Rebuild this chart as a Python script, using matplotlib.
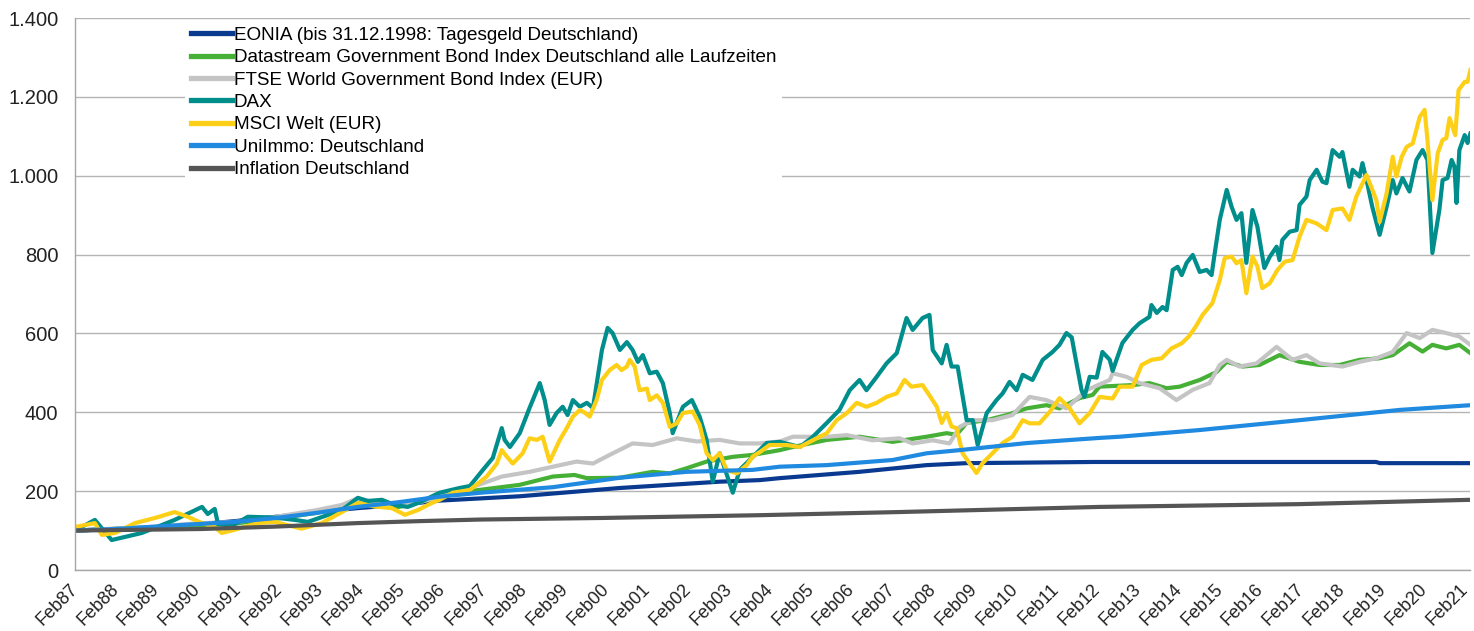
import matplotlib
matplotlib.use("Agg")
import matplotlib.pyplot as plt
import numpy as np

plt.rcParams['font.family'] = ['Liberation Sans', 'DejaVu Sans']

#%% data (x = decimal year, y = index, Feb 1987 = 100)
eonia_x = [1987.08, 1988.0, 1989.0, 1990.0, 1991.0, 1992.0, 1993.0, 1994.0, 1995.0, 1996.0,
           1997.96, 2000.41, 2002.85, 2003.83, 2004.32, 2006.27, 2007.91, 2008.89, 2012.0,
           2018.9, 2019.0, 2021.21]
eonia_y = [100, 104, 108, 115, 124, 135, 147, 157, 165, 176,
           187, 208, 224, 228, 233, 249, 266, 271, 274,
           274, 271, 271]

bond_de_x = [1987.08, 1988.0, 1989.0, 1990.0, 1991.0, 1992.0, 1993.0, 1994.0, 1994.5, 1995.0,
             1995.5, 1996.0, 1996.74, 1997.96, 1998.77, 1999.30, 1999.60, 2000.41, 2001.21,
             2001.63, 2002.04, 2002.53, 2003.17, 2003.66, 2004.32, 2004.64, 2005.47, 2006.27,
             2007.08, 2007.91, 2008.40, 2008.64, 2008.89, 2009.38, 2009.87, 2010.36, 2010.84,
             2011.16, 2011.65, 2011.97, 2012.14, 2012.95, 2013.36, 2013.78, 2014.10, 2014.59,
             2015.00, 2015.25, 2015.64, 2016.05, 2016.54, 2017.03, 2017.52, 2018.01, 2018.50,
             2018.99, 2019.31, 2019.72, 2020.04, 2020.28, 2020.62, 2020.94, 2021.21]
bond_de_y = [100, 104, 108, 112, 118, 130, 145, 170, 160, 160,
             172, 185, 200, 216, 237, 241, 233, 234, 249,
             245, 258, 275, 287, 292, 304, 312, 330, 338,
             325, 338, 347, 343, 373, 380, 393, 410, 418,
             410, 436, 444, 465, 469, 474, 461, 465, 482,
             502, 528, 516, 520, 545, 528, 520, 520, 533,
             537, 545, 575, 554, 571, 562, 571, 550]

ftse_x = [1987.08, 1988.06, 1989.04, 1990.0, 1991.0, 1992.0, 1993.0, 1993.61, 1994.0, 1994.5,
          1995.0, 1995.5, 1996.0, 1996.74, 1997.52, 1998.20, 1998.77, 1999.35, 1999.75,
          2000.16, 2000.72, 2001.21, 2001.80, 2002.29, 2002.85, 2003.34, 2003.83, 2004.32,
          2004.64, 2005.47, 2005.96, 2006.59, 2007.25, 2007.57, 2008.06, 2008.47, 2008.72,
          2009.04, 2009.52, 2010.01, 2010.43, 2010.84, 2011.33, 2011.82, 2012.39, 2012.46,
          2012.80, 2013.12, 2013.61, 2014.02, 2014.42, 2014.83, 2015.08, 2015.25, 2015.56,
          2015.98, 2016.47, 2016.86, 2017.20, 2017.52, 2018.08, 2018.50, 2018.91, 2019.31,
          2019.65, 2019.97, 2020.28, 2020.62, 2020.94, 2021.21]
ftse_y = [100, 105, 110, 118, 122, 135, 152, 165, 182, 170,
          165, 172, 185, 208, 237, 249, 262, 275, 270,
          292, 321, 317, 334, 326, 330, 321, 321, 326,
          338, 338, 342, 329, 334, 321, 329, 321, 363,
          380, 380, 393, 439, 431, 410, 456, 482, 499,
          490, 474, 461, 431, 457, 474, 520, 533, 516,
          524, 566, 533, 545, 524, 516, 528, 537, 553,
          601, 588, 609, 601, 592, 571]

dax_x = [1987.08, 1987.57, 1987.98, 1988.72, 1989.52, 1990.19, 1990.33, 1990.50, 1990.58, 1990.92,
         1991.31, 1991.97, 1992.46, 1992.78, 1993.61, 1994.00, 1994.24, 1994.59, 1994.90, 1995.22,
         1995.52, 1996.00, 1996.49, 1996.74, 1997.06, 1997.30, 1997.52, 1997.59, 1997.72, 1997.96,
         1998.20, 1998.45, 1998.57, 1998.69, 1998.86, 1999.01, 1999.13, 1999.26, 1999.43, 1999.60,
         1999.75, 1999.97, 2000.11, 2000.23, 2000.41, 2000.58, 2000.72, 2000.85, 2000.97, 2001.14,
         2001.31, 2001.46, 2001.63, 2001.70, 2001.95, 2002.17, 2002.36, 2002.53, 2002.68, 2002.85,
         2003.17, 2003.34, 2003.66, 2004.00, 2004.32, 2004.81, 2005.12, 2005.47, 2005.78, 2006.03,
         2006.27, 2006.44, 2006.69, 2006.93, 2007.18, 2007.42, 2007.57, 2007.81, 2007.98, 2008.06,
         2008.28, 2008.40, 2008.52, 2008.67, 2008.89, 2009.04, 2009.16, 2009.38, 2009.62, 2009.77,
         2009.94, 2010.11, 2010.26, 2010.50, 2010.75, 2010.99, 2011.16, 2011.33, 2011.46, 2011.53,
         2011.70, 2011.77, 2011.90, 2012.07, 2012.21, 2012.39, 2012.46, 2012.70, 2012.95, 2013.12,
         2013.36, 2013.41, 2013.54, 2013.68, 2013.78, 2013.93, 2014.05, 2014.15, 2014.27, 2014.42,
         2014.59, 2014.76, 2014.88, 2014.95, 2015.08, 2015.25, 2015.37, 2015.49, 2015.61, 2015.73,
         2015.88, 2016.00, 2016.17, 2016.30, 2016.47, 2016.54, 2016.61, 2016.79, 2016.96, 2017.03,
         2017.20, 2017.28, 2017.45, 2017.59, 2017.69, 2017.84, 2018.01, 2018.08, 2018.25, 2018.33,
         2018.50, 2018.57, 2018.67, 2018.81, 2018.99, 2019.16, 2019.31, 2019.40, 2019.55, 2019.72,
         2019.89, 2020.04, 2020.16, 2020.28, 2020.45, 2020.53, 2020.65, 2020.75, 2020.82, 2020.87,
         2020.94, 2021.07, 2021.14, 2021.21]
dax_y = [100, 127, 76, 94, 127, 160, 142, 155, 117, 112,
         135, 133, 127, 122, 152, 183, 175, 178, 165, 160,
         172, 196, 208, 213, 254, 284, 360, 330, 312, 347,
         411, 474, 431, 368, 398, 414, 393, 431, 414, 424,
         411, 558, 614, 601, 558, 578, 558, 528, 545, 499,
         503, 474, 398, 347, 414, 431, 389, 330, 224, 296,
         196, 254, 287, 322, 325, 312, 337, 373, 406, 456,
         482, 456, 490, 524, 550, 639, 609, 639, 647, 558,
         524, 571, 516, 516, 380, 380, 317, 398, 431, 448,
         477, 456, 495, 482, 533, 553, 571, 601, 590, 550,
         456, 439, 490, 488, 553, 533, 505, 576, 609, 626,
         642, 672, 652, 667, 659, 761, 769, 748, 779, 799,
         756, 761, 748, 799, 888, 964, 921, 888, 905, 779,
         913, 871, 766, 794, 820, 786, 837, 858, 862, 926,
         947, 989, 1015, 985, 981, 1065, 1048, 1060, 972, 1015,
         998, 1032, 989, 921, 850, 921, 989, 955, 994, 960,
         1040, 1065, 1040, 804, 913, 989, 994, 1040, 1023, 931,
         1065, 1103, 1083, 1107]

msci_x = [1987.08, 1987.57, 1987.74, 1988.06, 1988.55, 1989.04, 1989.52, 1989.84, 1990.19, 1990.50,
          1990.67, 1990.99, 1991.55, 1991.97, 1992.46, 1992.63, 1993.12, 1993.61, 1994.00, 1994.41,
          1994.83, 1995.15, 1995.47, 1995.81, 1996.00, 1996.32, 1996.74, 1997.15, 1997.40, 1997.52,
          1997.64, 1997.79, 1998.03, 1998.20, 1998.38, 1998.52, 1998.69, 1998.94, 1999.11, 1999.26,
          1999.43, 1999.55, 1999.67, 1999.84, 1999.97, 2000.16, 2000.33, 2000.45, 2000.58, 2000.65,
          2000.77, 2000.89, 2001.07, 2001.14, 2001.31, 2001.46, 2001.63, 2001.80, 2001.95, 2002.19,
          2002.36, 2002.53, 2002.68, 2002.85, 2003.02, 2003.27, 2003.51, 2003.66, 2003.83, 2004.07,
          2004.49, 2004.81, 2005.22, 2005.47, 2005.71, 2005.96, 2006.20, 2006.44, 2006.69, 2006.93,
          2007.18, 2007.37, 2007.54, 2007.81, 2007.98, 2008.16, 2008.28, 2008.40, 2008.52, 2008.64,
          2008.79, 2008.96, 2009.13, 2009.28, 2009.52, 2009.77, 2010.01, 2010.26, 2010.43, 2010.67,
          2010.92, 2011.16, 2011.41, 2011.65, 2011.90, 2012.14, 2012.46, 2012.63, 2012.95, 2013.17,
          2013.41, 2013.66, 2013.90, 2014.15, 2014.32, 2014.49, 2014.66, 2014.90, 2015.08, 2015.20,
          2015.37, 2015.49, 2015.61, 2015.73, 2015.88, 2016.00, 2016.12, 2016.30, 2016.49, 2016.67,
          2016.86, 2017.03, 2017.20, 2017.45, 2017.69, 2017.84, 2018.08, 2018.25, 2018.42, 2018.67,
          2018.91, 2018.99, 2019.16, 2019.31, 2019.40, 2019.53, 2019.65, 2019.80, 2019.97, 2020.09,
          2020.16, 2020.28, 2020.41, 2020.53, 2020.62, 2020.70, 2020.84, 2020.92, 2021.07, 2021.14,
          2021.21]
msci_y = [109, 119, 89, 94, 119, 132, 147, 135, 119, 109,
          94, 102, 119, 122, 109, 105, 119, 147, 170, 161,
          157, 140, 152, 170, 178, 196, 203, 237, 270, 304,
          288, 270, 296, 334, 330, 338, 275, 330, 360, 389,
          406, 399, 389, 431, 482, 507, 520, 507, 516, 533,
          516, 456, 460, 431, 443, 424, 363, 372, 398, 402,
          368, 296, 279, 296, 254, 245, 266, 288, 299, 317,
          317, 312, 334, 347, 380, 398, 424, 414, 424, 439,
          448, 482, 465, 469, 443, 414, 373, 398, 364, 360,
          296, 271, 246, 271, 296, 322, 338, 380, 372, 372,
          401, 436, 410, 372, 398, 439, 435, 465, 465, 520,
          533, 537, 562, 575, 592, 617, 647, 677, 735, 791,
          795, 778, 786, 702, 795, 770, 715, 727, 761, 782,
          786, 845, 888, 879, 862, 913, 917, 888, 947, 1002,
          938, 883, 955, 1048, 998, 1048, 1073, 1082, 1149, 1167,
          1090, 938, 1057, 1091, 1095, 1146, 1103, 1217, 1238, 1238,
          1268]

immo_x = [1987.08, 1988.06, 1989.04, 1990.0, 1991.0, 1992.0, 1993.0, 1994.0, 1995.0, 1996.0,
          1997.0, 1998.77, 2000.41, 2002.04, 2003.66, 2004.32, 2005.47, 2007.08, 2007.91,
          2008.72, 2010.36, 2012.14, 2012.63, 2014.59, 2017.03, 2019.48, 2021.21]
immo_y = [100, 104, 110, 116, 122, 132, 145, 160, 172, 186,
          196, 210, 234, 249, 254, 262, 266, 279, 296,
          304, 322, 335, 338, 355, 380, 406, 418]

infl_x = [1987.08, 1990.19, 1991.97, 1994.00, 1995.52, 1997.0, 2000.0, 2003.83, 2007.25,
          2012.14, 2017.0, 2021.21]
infl_y = [100, 104, 110, 119, 124, 128, 132, 139, 147, 160, 167, 178]

series = [
    ("EONIA (bis 31.12.1998: Tagesgeld Deutschland)", eonia_x, eonia_y, '#0a3a8f'),
    ("Datastream Government Bond Index Deutschland alle Laufzeiten", bond_de_x, bond_de_y, '#45b035'),
    ("FTSE World Government Bond Index (EUR)", ftse_x, ftse_y, '#c4c4c4'),
    ("DAX", dax_x, dax_y, '#008e8c'),
    ("MSCI Welt (EUR)", msci_x, msci_y, '#fdd017'),
    ("UniImmo: Deutschland", immo_x, immo_y, '#1f8ae0'),
    ("Inflation Deutschland", infl_x, infl_y, '#555555'),
]

years = list(range(1987, 2022))
xtick_labels = ['Feb%02d' % (y % 100) for y in years]
ytick_vals = [0, 200, 400, 600, 800, 1000, 1200, 1400]
ytick_labels = ['0', '200', '400', '600', '800', '1.000', '1.200', '1.400']

#%% plot
fig = plt.figure(figsize=(14.74, 6.31), dpi=100)
ax = fig.add_axes([75 / 1474, 61 / 631, 1395 / 1474, 552 / 631])

for label, xs, ys, col in series:
    ax.plot(xs, ys, color=col, lw=3.0, label=label, solid_joinstyle='round')

ax.set_xlim(1987.083, 2021.2)
ax.set_ylim(0, 1400)
ax.set_yticks(ytick_vals)
ax.set_yticklabels(ytick_labels, fontsize=14.5, color='#222222')
ax.set_xticks([y + 1 / 12 for y in years])
ax.set_xticklabels(xtick_labels, fontsize=13, color='#222222', rotation=45,
                   ha='right', va='center', rotation_mode='anchor')
ax.tick_params(axis='y', length=0, pad=12)
ax.tick_params(axis='x', length=0, pad=12)

ax.grid(axis='y', color='#b4b4b4', lw=1.0)
ax.set_axisbelow(True)
for s in ['top', 'right']:
    ax.spines[s].set_visible(False)
for s in ['left', 'bottom']:
    ax.spines[s].set_color('#a6a6a6')
    ax.spines[s].set_linewidth(1.0)

leg = ax.legend(loc='upper left', bbox_to_anchor=(0.072, 1.012), fontsize=13.6,
                handlelength=2.2, handletextpad=0.1, labelspacing=0.275,
                frameon=True, fancybox=False, borderpad=0.3)
leg.get_frame().set_facecolor('white')
leg.get_frame().set_edgecolor('none')
leg.get_frame().set_alpha(1)
for line in leg.get_lines():
    line.set_linewidth(3.8)

fig.savefig('out.png', dpi=100)
